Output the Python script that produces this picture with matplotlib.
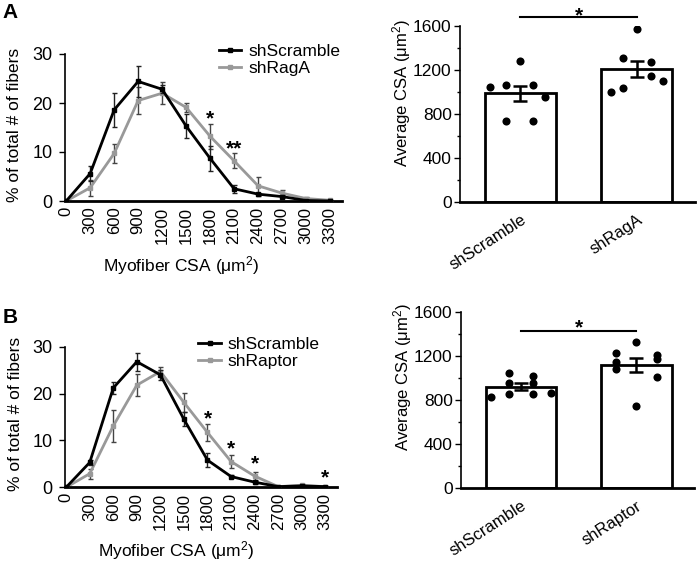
import matplotlib
matplotlib.use("Agg")
import matplotlib.pyplot as plt
import numpy as np
from matplotlib.ticker import MultipleLocator

plt.rcParams['font.family'] = ['Liberation Sans', 'DejaVu Sans']
plt.rcParams['mathtext.default'] = 'regular'

# ---------------- data ----------------
bins = ['0', '300', '600', '900', '1200', '1500', '1800', '2100', '2400', '2700', '3000', '3300']

a_scr = [0, 5.6, 18.6, 24.4, 22.8, 15.3, 8.7, 2.5, 1.4, 0.9, 0.1, 0.0]
a_scr_err = [0, 1.6, 3.5, 3.2, 0.8, 2.5, 2.6, 0.8, 0.3, 0.3, 0.1, 0.0]
a_rag = [0, 2.7, 9.7, 20.5, 22.0, 19.1, 13.2, 8.2, 3.1, 1.6, 0.5, 0.15]
a_rag_err = [0, 1.6, 1.9, 2.8, 2.3, 0.9, 2.6, 1.5, 1.8, 0.6, 0.3, 0.1]
a_star_idx = [6, 7]
a_star_txt = ['*', '**']
a_star_y = [15.6, 9.6]

b_scr = [0, 5.3, 21.2, 26.8, 24.0, 14.5, 5.8, 2.3, 1.1, 0.15, 0.3, 0.15]
b_scr_err = [0, 0.5, 1.2, 1.9, 1.0, 1.5, 1.5, 0.3, 0.3, 0.1, 0.1, 0.1]
b_rap = [0, 2.9, 13.1, 21.8, 24.7, 18.1, 11.7, 5.5, 2.4, 0.15, 0.4, 0.15]
b_rap_err = [0, 1.1, 3.5, 2.4, 1.0, 2.0, 1.9, 1.3, 0.8, 0.1, 0.2, 0.1]
b_star_idx = [6, 7, 8, 11]
b_star_txt = ['*', '*', '*', '*']
b_star_y = [13.4, 7.0, 3.8, 0.8]

a_groups = ['shScramble', 'shRagA']
a_means = [987, 1205]
a_sems = [71, 72]
a_pts_scr = [1280, 1047, 1060, 1063, 954, 737, 737]
a_jit_scr = [0.0, -0.26, -0.124, 0.104, 0.21, -0.124, 0.104]
a_pts_rag = [1567, 1305, 1268, 1144, 1099, 1038, 999]
a_jit_rag = [0.0, -0.123, 0.122, 0.122, 0.222, -0.123, -0.222]
a_sig_y = 1681
a_sig_star = 1640

b_groups = ['shScramble', 'shRaptor']
b_means = [924, 1121]
b_sems = [30, 64]
b_pts_scr = [833, 1045, 960, 857, 1024, 960, 857, 864]
b_jit_scr = [-0.26, -0.105, -0.105, -0.105, 0.105, 0.105, 0.105, 0.26]
b_pts_rap = [1333, 1233, 1145, 1085, 1212, 1172, 1015, 748]
b_jit_rap = [0.0, -0.177, -0.177, -0.177, 0.177, 0.177, 0.177, 0.0]
b_sig_y = 1430
b_sig_star = 1405

fig = plt.figure(figsize=(7.0, 5.64), dpi=100)

GREY = '#999999'


def line_panel(rect, s1, e1, s2, e2, lab2, star_idx, star_txt, star_y, ylab_y, xlab_y, xlab_x,
               leg_anchor):
    ax = fig.add_axes(rect)
    x = np.arange(len(bins))
    ax.errorbar(x, s2, yerr=e2, fmt='none', ecolor='#444444', elinewidth=1.0, capsize=1.8,
                capthick=1.0, zorder=2)
    ax.plot(x, s2, color=GREY, lw=2, marker='s', ms=3, label=lab2, zorder=2)
    ax.errorbar(x, s1, yerr=e1, fmt='none', ecolor='#222222', elinewidth=1.0, capsize=1.8,
                capthick=1.0, zorder=3)
    ax.plot(x, s1, color='black', lw=2, marker='s', ms=3, label='shScramble', zorder=3)
    for i, t, y in zip(star_idx, star_txt, star_y):
        ax.text(x[i], y, t, ha='center', va='baseline', fontsize=15, fontweight='bold')
    ax.set_xlim(-0.05, 11.5)
    ax.set_ylim(0, 30)
    ax.set_yticks([0, 10, 20, 30])
    ax.set_xticks(x)
    ax.set_xticklabels(bins, rotation=90, fontsize=12)
    ax.tick_params(axis='x', length=0, pad=4)
    ax.tick_params(axis='y', length=4, width=1, labelsize=13, pad=5)
    for s in ['top', 'right']:
        ax.spines[s].set_visible(False)
    ax.spines['left'].set_linewidth(1.2)
    ax.spines['bottom'].set_linewidth(2)
    ax.set_ylabel('% of total # of fibers', fontsize=12.5)
    ax.yaxis.set_label_coords(-0.155, ylab_y)
    ax.set_xlabel('Myofiber CSA ($\\mu$m$^2$)', fontsize=12.5)
    ax.xaxis.set_label_coords(xlab_x, xlab_y)
    h, l = ax.get_legend_handles_labels()
    ax.legend(h[::-1], l[::-1], loc='upper left', bbox_to_anchor=leg_anchor, frameon=False,
              fontsize=12.5, handlelength=1.3, handletextpad=0.4, labelspacing=0.1,
              borderaxespad=0, borderpad=0)
    return ax


def bar_panel(rect, groups, means, sems, pts1, jit1, pts2, jit2, sig_y, sig_star, ylab_y):
    ax = fig.add_axes(rect)
    x = np.arange(len(groups))
    ax.bar(x, means, width=0.61, color='white', edgecolor='black', linewidth=2, zorder=1)
    ax.errorbar(x, means, yerr=sems, fmt='none', ecolor='black', elinewidth=1.8,
                capsize=4.7, capthick=1.8, zorder=3)
    ax.scatter(x[0] + np.array(jit1), pts1, s=34, color='black', zorder=4, linewidths=0)
    ax.scatter(x[1] + np.array(jit2), pts2, s=34, color='black', zorder=4, linewidths=0)
    ax.plot([x[0], x[1]], [sig_y, sig_y], color='black', lw=1.5, clip_on=False)
    ax.text((x[0] + x[1]) / 2, sig_star, '*', ha='center', va='baseline', fontsize=15,
            fontweight='bold', clip_on=False)
    ax.set_xlim(-0.52, 1.50)
    ax.set_ylim(0, 1600)
    ax.set_yticks([0, 400, 800, 1200, 1600])
    ax.yaxis.set_minor_locator(MultipleLocator(200))
    ax.set_xticks(x)
    ax.set_xticklabels(groups, rotation=33, ha='right', rotation_mode='anchor', fontsize=12)
    ax.tick_params(axis='x', length=0, pad=7)
    ax.tick_params(axis='y', which='major', length=4, width=1, labelsize=12.5, pad=2)
    ax.tick_params(axis='y', which='minor', length=2, width=1)
    for s in ['top', 'right']:
        ax.spines[s].set_visible(False)
    ax.spines['left'].set_linewidth(1.2)
    ax.spines['bottom'].set_linewidth(2)
    ax.set_ylabel('Average CSA ($\\mu$m$^2$)', fontsize=12)
    ax.yaxis.set_label_coords(-0.20, ylab_y)
    return ax


line_panel([65 / 700, 1 - 201 / 564, 277 / 700, 147 / 564], a_scr, a_scr_err, a_rag, a_rag_err,
           'shRagA', a_star_idx, a_star_txt, a_star_y, 0.52, -0.36, 0.42, (0.555, 1.07))
line_panel([65 / 700, 1 - 487.3 / 564, 272 / 700, 140.6 / 564], b_scr, b_scr_err, b_rap, b_rap_err,
           'shRaptor', b_star_idx, b_star_txt, b_star_y, 0.525, -0.37, 0.41, (0.49, 1.07))

bar_panel([460 / 700, 1 - 202.3 / 564, 235 / 700, 176.6 / 564], a_groups, a_means, a_sems,
          a_pts_scr, a_jit_scr, a_pts_rag, a_jit_rag, a_sig_y, a_sig_star, 0.62)
bar_panel([461 / 700, 1 - 488.3 / 564, 233 / 700, 176 / 564], b_groups, b_means, b_sems,
          b_pts_scr, b_jit_scr, b_pts_rap, b_jit_rap, b_sig_y, b_sig_star, 0.63)

fig.text(0.004, 1 - 3 / 564, 'A', fontsize=15, fontweight='bold', va='top', ha='left')
fig.text(0.004, 1 - 308 / 564, 'B', fontsize=15, fontweight='bold', va='top', ha='left')

fig.savefig('out.png', dpi=100)
